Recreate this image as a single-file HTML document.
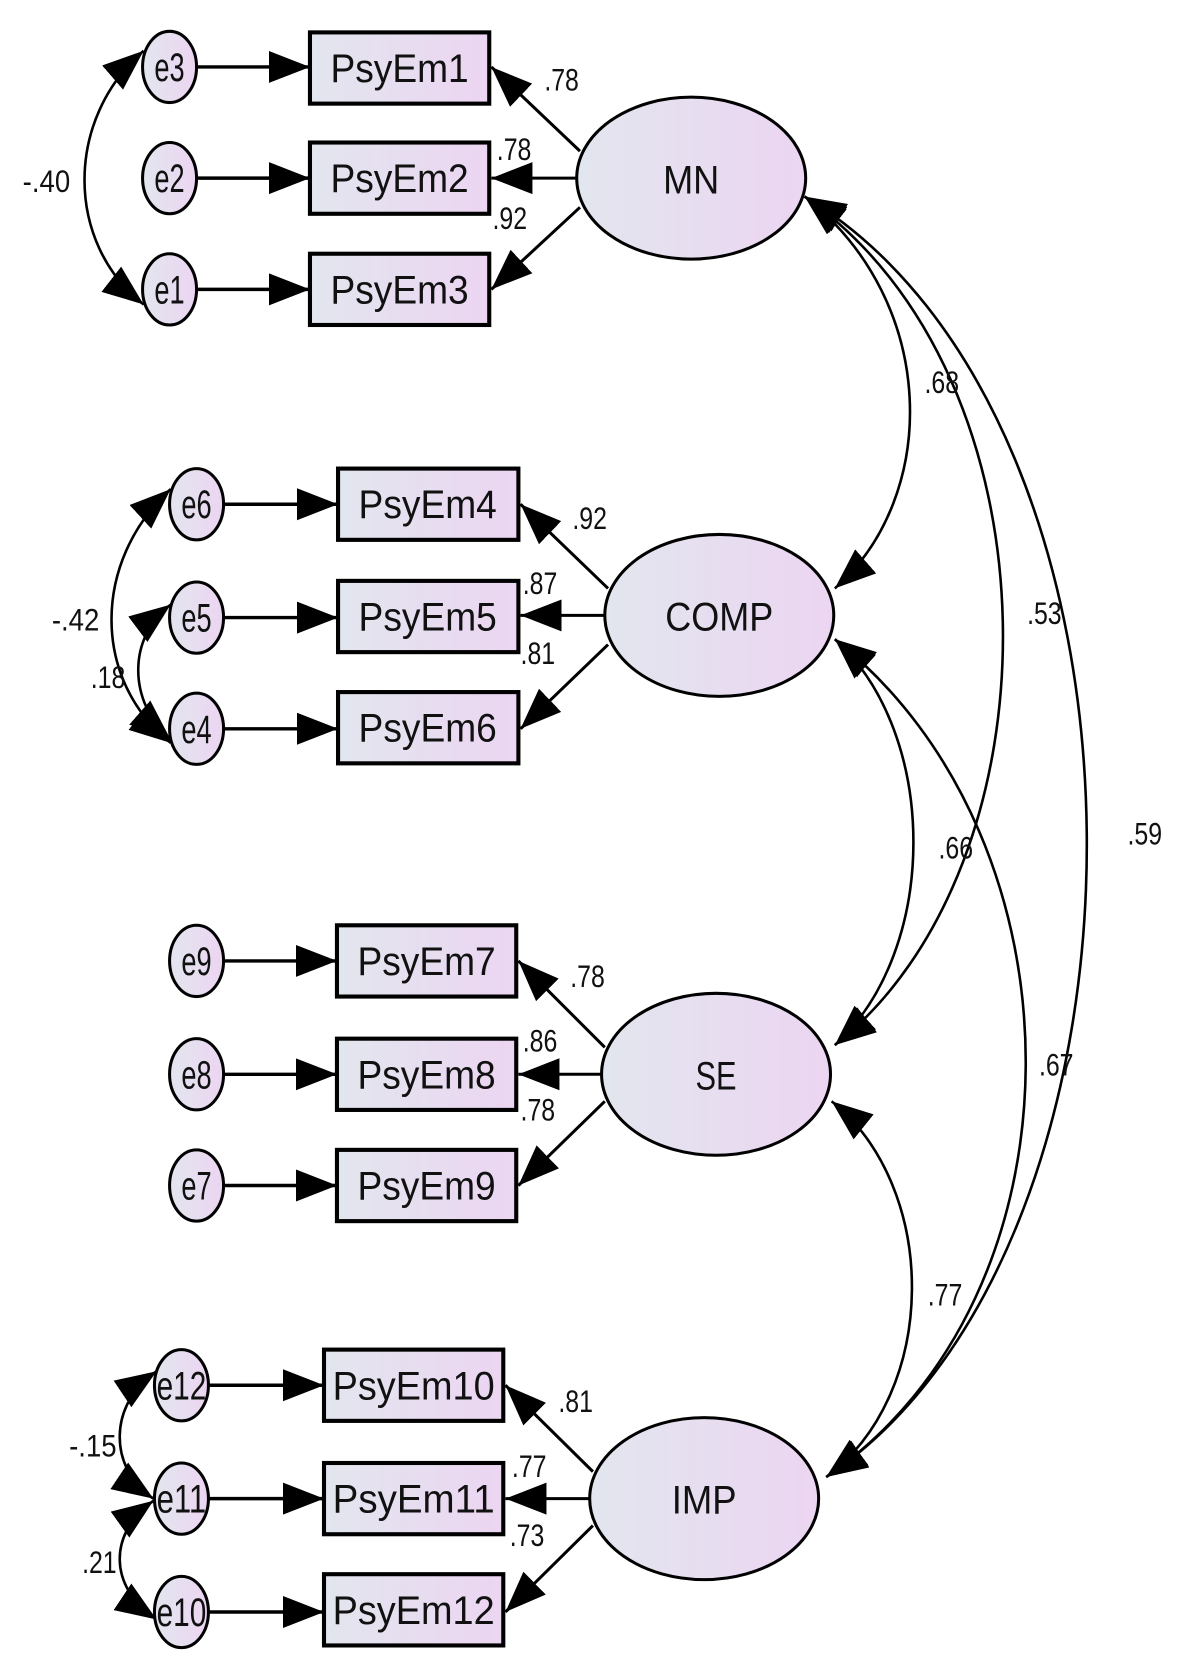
<!DOCTYPE html>
<html><head><meta charset="utf-8"><style>html,body{margin:0;padding:0;background:#fff}svg{display:block}</style></head>
<body>
<svg width="1188" height="1680" viewBox="0 0 1100 1556" preserveAspectRatio="none" xmlns="http://www.w3.org/2000/svg" font-family="Liberation Sans, sans-serif">
<defs>
<linearGradient id="g" x1="0" x2="1" y1="0" y2="0"><stop offset="0" stop-color="#e2e6ee"/><stop offset="1" stop-color="#ecd5f2"/></linearGradient>
<marker id="b" viewBox="0 0 10 10" refX="10" refY="5" markerWidth="38" markerHeight="38" orient="auto-start-reverse" markerUnits="userSpaceOnUse"><path d="M0,1.1 L10,5 L0,8.9 z" fill="#000"/></marker>
</defs>
<g stroke="#000" fill="none">
<g stroke-width="3.2" marker-end="url(#b)">
<path d="M182,62H287"/><path d="M182,165H287"/><path d="M182,268H287"/>
<path d="M207,467H313"/><path d="M207,572H313"/><path d="M207,675H313"/>
<path d="M207,890H312"/><path d="M207,995H312"/><path d="M207,1098H312"/>
<path d="M193,1283H300"/><path d="M193,1388H300"/><path d="M193,1493H300"/>
</g>
<g stroke-width="2.8" marker-end="url(#b)">
<path d="M537,140L455,62"/><path d="M535,165H455"/><path d="M537,192L455,268"/>
<path d="M563,545L482,467"/><path d="M561,570H482"/><path d="M563,597L482,675"/>
<path d="M560,970L480,890"/><path d="M558,995H480"/><path d="M560,1020L480,1098"/>
<path d="M549,1363L468,1283"/><path d="M547,1388H468"/><path d="M549,1413L468,1493"/>
</g>
<g stroke-width="2.4" marker-start="url(#b)" marker-end="url(#b)">
<path d="M745,182C870,280 870,460 773,545"/>
<path d="M745,182C985,350 985,800 773,968"/>
<path d="M745,182C1090,390 1090,1150 765,1368"/>
<path d="M773,592C870,680 870,880 773,968"/>
<path d="M773,592C1010,780 1010,1200 765,1368"/>
<path d="M770,1020C870,1100 870,1290 765,1368"/>
</g>
<g stroke-width="2.4" marker-start="url(#b)" marker-end="url(#b)">
<path d="M133,47C60,110 60,225 133,282"/>
<path d="M158,453C85,520 85,630 158,688"/>
<path d="M158,560C118,590 118,650 158,685"/>
<path d="M145,1270C100,1300 100,1360 142,1388"/>
<path d="M142,1390C100,1420 100,1470 145,1500"/>
</g>
</g>
<g stroke="#000" stroke-width="2.8" fill="url(#g)">
<ellipse cx="157" cy="62" rx="25" ry="33"/><ellipse cx="157" cy="165" rx="25" ry="33"/><ellipse cx="157" cy="268" rx="25" ry="33"/>
<ellipse cx="182" cy="467" rx="25" ry="33"/><ellipse cx="182" cy="572" rx="25" ry="33"/><ellipse cx="182" cy="675" rx="25" ry="33"/>
<ellipse cx="182" cy="890" rx="25" ry="33"/><ellipse cx="182" cy="995" rx="25" ry="33"/><ellipse cx="182" cy="1098" rx="25" ry="33"/>
<ellipse cx="168" cy="1283" rx="25" ry="33"/><ellipse cx="168" cy="1388" rx="25" ry="33"/><ellipse cx="168" cy="1493" rx="25" ry="33"/>
<rect x="287" y="30" width="166" height="66" stroke-width="3.8"/><rect x="287" y="132" width="166" height="66" stroke-width="3.8"/><rect x="287" y="235" width="166" height="66" stroke-width="3.8"/>
<rect x="313" y="434" width="167" height="66" stroke-width="3.8"/><rect x="313" y="538" width="167" height="66" stroke-width="3.8"/><rect x="313" y="641" width="167" height="66" stroke-width="3.8"/>
<rect x="312" y="857" width="166" height="66" stroke-width="3.8"/><rect x="312" y="962" width="166" height="66" stroke-width="3.8"/><rect x="312" y="1065" width="166" height="66" stroke-width="3.8"/>
<rect x="300" y="1250" width="166" height="66" stroke-width="3.8"/><rect x="300" y="1355" width="166" height="66" stroke-width="3.8"/><rect x="300" y="1458" width="166" height="66" stroke-width="3.8"/>
<ellipse cx="640" cy="165" rx="106" ry="75"/>
<ellipse cx="666" cy="570" rx="106" ry="75"/>
<ellipse cx="663" cy="995" rx="106" ry="75"/>
<ellipse cx="652" cy="1388" rx="106" ry="75"/>
</g>
<g font-size="37" text-anchor="middle" fill="#111">
<text x="157" y="75" textLength="28" lengthAdjust="spacingAndGlyphs">e3</text><text x="157" y="178" textLength="28" lengthAdjust="spacingAndGlyphs">e2</text><text x="157" y="281" textLength="28" lengthAdjust="spacingAndGlyphs">e1</text>
<text x="182" y="480" textLength="28" lengthAdjust="spacingAndGlyphs">e6</text><text x="182" y="585" textLength="28" lengthAdjust="spacingAndGlyphs">e5</text><text x="182" y="688" textLength="28" lengthAdjust="spacingAndGlyphs">e4</text>
<text x="182" y="903" textLength="28" lengthAdjust="spacingAndGlyphs">e9</text><text x="182" y="1008" textLength="28" lengthAdjust="spacingAndGlyphs">e8</text><text x="182" y="1111" textLength="28" lengthAdjust="spacingAndGlyphs">e7</text>
<text x="168" y="1296" textLength="46" lengthAdjust="spacingAndGlyphs">e12</text><text x="168" y="1401" textLength="46" lengthAdjust="spacingAndGlyphs">e11</text><text x="168" y="1506" textLength="46" lengthAdjust="spacingAndGlyphs">e10</text>
<text x="370" y="76" textLength="128" lengthAdjust="spacingAndGlyphs">PsyEm1</text><text x="370" y="178" textLength="128" lengthAdjust="spacingAndGlyphs">PsyEm2</text><text x="370" y="281" textLength="128" lengthAdjust="spacingAndGlyphs">PsyEm3</text>
<text x="396" y="480" textLength="128" lengthAdjust="spacingAndGlyphs">PsyEm4</text><text x="396" y="584" textLength="128" lengthAdjust="spacingAndGlyphs">PsyEm5</text><text x="396" y="687" textLength="128" lengthAdjust="spacingAndGlyphs">PsyEm6</text>
<text x="395" y="903" textLength="128" lengthAdjust="spacingAndGlyphs">PsyEm7</text><text x="395" y="1008" textLength="128" lengthAdjust="spacingAndGlyphs">PsyEm8</text><text x="395" y="1111" textLength="128" lengthAdjust="spacingAndGlyphs">PsyEm9</text>
<text x="383" y="1296" textLength="150" lengthAdjust="spacingAndGlyphs">PsyEm10</text><text x="383" y="1401" textLength="150" lengthAdjust="spacingAndGlyphs">PsyEm11</text><text x="383" y="1504" textLength="150" lengthAdjust="spacingAndGlyphs">PsyEm12</text>
<text x="640" y="179" textLength="52" lengthAdjust="spacingAndGlyphs">MN</text><text x="666" y="584" textLength="100" lengthAdjust="spacingAndGlyphs">COMP</text><text x="663" y="1009" textLength="38" lengthAdjust="spacingAndGlyphs">SE</text><text x="652" y="1402" textLength="60" lengthAdjust="spacingAndGlyphs">IMP</text>
</g>
<g font-size="29" text-anchor="middle" fill="#111">
<text x="520" y="84" textLength="32" lengthAdjust="spacingAndGlyphs">.78</text><text x="476" y="148" textLength="32" lengthAdjust="spacingAndGlyphs">.78</text><text x="472" y="212" textLength="32" lengthAdjust="spacingAndGlyphs">.92</text>
<text x="546" y="490" textLength="32" lengthAdjust="spacingAndGlyphs">.92</text><text x="500" y="550" textLength="32" lengthAdjust="spacingAndGlyphs">.87</text><text x="498" y="615" textLength="32" lengthAdjust="spacingAndGlyphs">.81</text>
<text x="544" y="914" textLength="32" lengthAdjust="spacingAndGlyphs">.78</text><text x="500" y="974" textLength="32" lengthAdjust="spacingAndGlyphs">.86</text><text x="498" y="1038" textLength="32" lengthAdjust="spacingAndGlyphs">.78</text>
<text x="533" y="1308" textLength="32" lengthAdjust="spacingAndGlyphs">.81</text><text x="490" y="1368" textLength="32" lengthAdjust="spacingAndGlyphs">.77</text><text x="488" y="1432" textLength="32" lengthAdjust="spacingAndGlyphs">.73</text>
<text x="43" y="178" textLength="44" lengthAdjust="spacingAndGlyphs">-.40</text><text x="70" y="584" textLength="44" lengthAdjust="spacingAndGlyphs">-.42</text><text x="100" y="637" textLength="32" lengthAdjust="spacingAndGlyphs">.18</text>
<text x="86" y="1349" textLength="44" lengthAdjust="spacingAndGlyphs">-.15</text><text x="92" y="1457" textLength="32" lengthAdjust="spacingAndGlyphs">.21</text>
<text x="872" y="364" textLength="32" lengthAdjust="spacingAndGlyphs">.68</text><text x="967" y="578" textLength="32" lengthAdjust="spacingAndGlyphs">.53</text><text x="1060" y="782" textLength="32" lengthAdjust="spacingAndGlyphs">.59</text>
<text x="885" y="795" textLength="32" lengthAdjust="spacingAndGlyphs">.66</text><text x="978" y="996" textLength="32" lengthAdjust="spacingAndGlyphs">.67</text><text x="875" y="1209" textLength="32" lengthAdjust="spacingAndGlyphs">.77</text>
</g>
</svg>
</body></html>
